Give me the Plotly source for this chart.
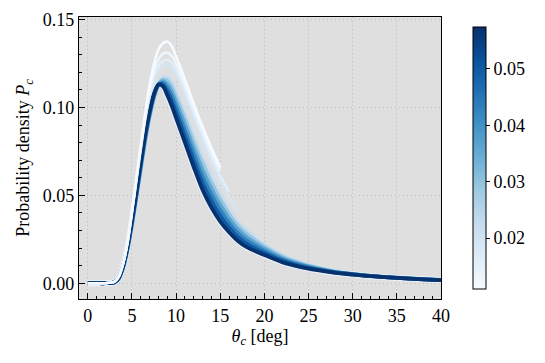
import plotly.graph_objects as go
from plotly.colors import sample_colorscale

# theta_c grid [deg]
theta = [0, 1, 2, 3, 3.5, 4, 4.5, 5, 5.5, 6, 6.5, 7, 7.5, 8, 8.5, 9, 9.5, 10,
         11, 12, 13, 14, 15, 16, 17, 18, 20, 22, 24, 26, 28, 30, 32, 35, 38, 40]

# full-range curves (colour value -> P_c)
p_057 = [0, 0, 0, 0.0005, 0.003, 0.010, 0.021, 0.036, 0.052, 0.069, 0.085, 0.098, 0.108, 0.113, 0.112, 0.107, 0.101, 0.094,
         0.080, 0.066, 0.053, 0.043, 0.035, 0.029, 0.024, 0.0205, 0.016, 0.012, 0.0093, 0.0074, 0.0059, 0.0049, 0.0040, 0.0030, 0.0022, 0.0017]
p_050 = [0, 0, 0, 0.0005, 0.0029, 0.0097, 0.0206, 0.0352, 0.0512, 0.068, 0.084, 0.0972, 0.1074, 0.113, 0.113, 0.1091, 0.1037, 0.097,
         0.0834, 0.0696, 0.0568, 0.0466, 0.0382, 0.0316, 0.0262, 0.0224, 0.0172, 0.0128, 0.0098, 0.0077, 0.0061, 0.0050, 0.0040, 0.0030, 0.0022, 0.0017]
p_043 = [0, 0, 0, 0.0005, 0.0028, 0.0094, 0.0202, 0.0344, 0.0504, 0.067, 0.083, 0.0964, 0.1068, 0.113, 0.114, 0.1112, 0.1064, 0.100,
         0.0868, 0.0732, 0.0606, 0.0502, 0.0414, 0.0342, 0.0284, 0.0243, 0.0184, 0.0136, 0.0104, 0.0080, 0.0063, 0.0051, 0.0041, 0.0030, 0.0022, 0.0017]
p_036 = [0, 0, 0, 0.0004, 0.0027, 0.0091, 0.0198, 0.0336, 0.0496, 0.066, 0.082, 0.0956, 0.1062, 0.113, 0.115, 0.1133, 0.1091, 0.103,
         0.0902, 0.0768, 0.0644, 0.0538, 0.0446, 0.0368, 0.0306, 0.0262, 0.0196, 0.0144, 0.0109, 0.0084, 0.0064, 0.0051, 0.0041, 0.0031, 0.0023, 0.0018]
p_029 = [0, 0, 0, 0.0004, 0.0026, 0.0088, 0.0194, 0.0328, 0.0488, 0.065, 0.081, 0.0948, 0.1056, 0.113, 0.116, 0.1154, 0.1118, 0.106,
         0.0936, 0.0804, 0.0682, 0.0574, 0.0478, 0.0394, 0.0328, 0.0281, 0.0208, 0.0152, 0.0115, 0.0087, 0.0066, 0.0052, 0.0042, 0.0031, 0.0023, 0.0018]
p_022 = [0, 0, 0, 0.0004, 0.0025, 0.0085, 0.019, 0.032, 0.048, 0.064, 0.080, 0.094, 0.105, 0.113, 0.117, 0.1175, 0.1145, 0.109,
         0.097, 0.084, 0.072, 0.061, 0.051, 0.042, 0.035, 0.030, 0.022, 0.016, 0.0120, 0.0090, 0.0068, 0.0053, 0.0042, 0.0031, 0.0023, 0.0018]

# truncated curves (low colour values)
p_019 = [0, 0, 0, 0.0007, 0.0035, 0.011, 0.0225, 0.040, 0.058, 0.076, 0.093, 0.106, 0.116, 0.121, 0.1235, 0.124, 0.1225, 0.1185,
         0.107, 0.094, 0.081, 0.069, 0.058, 0.049, 0.041]
p_016 = [0, 0, 0, 0.0007, 0.0036, 0.011, 0.023, 0.040, 0.059, 0.077, 0.094, 0.108, 0.118, 0.1235, 0.1265, 0.127, 0.1255, 0.1215,
         0.110, 0.097, 0.084, 0.072, 0.061, 0.052]
p_013 = [0, 0, 0, 0.0008, 0.0037, 0.0112, 0.0235, 0.041, 0.0595, 0.078, 0.095, 0.110, 0.121, 0.1275, 0.1305, 0.1312, 0.1295, 0.125,
         0.113, 0.100, 0.087, 0.075, 0.064]
p_011 = [0, 0, 0, 0.0008, 0.0038, 0.0115, 0.024, 0.041, 0.060, 0.079, 0.097, 0.113, 0.125, 0.133, 0.1365, 0.1375, 0.135, 0.129,
         0.116, 0.102, 0.089, 0.077, 0.066]

curves = [(0.022, p_022), (0.029, p_029), (0.036, p_036), (0.043, p_043), (0.050, p_050), (0.057, p_057),
          (0.019, p_019), (0.016, p_016), (0.013, p_013), (0.011, p_011)]

cmin, cmax = 0.011, 0.0574
blues = [[0, 'rgb(247,251,255)'], [0.125, 'rgb(222,235,247)'], [0.25, 'rgb(198,219,239)'],
         [0.375, 'rgb(158,202,225)'], [0.5, 'rgb(107,174,214)'], [0.625, 'rgb(66,146,198)'],
         [0.75, 'rgb(33,113,181)'], [0.875, 'rgb(8,81,156)'], [1, 'rgb(8,48,107)']]

serif = "Liberation Serif, Times New Roman, serif"
fs = 18

fig = go.Figure()

# pale halo under the darkest curve
fig.add_trace(go.Scatter(x=theta, y=p_057, mode='lines', line=dict(color='rgb(235,243,251)', width=6, shape='spline', smoothing=0.8),
                         hoverinfo='skip', showlegend=False))

for val, ys in curves:
    col = sample_colorscale(blues, [(val - cmin) / (cmax - cmin)])[0]
    w = 3.8 if len(ys) == len(theta) else 2.5
    fig.add_trace(go.Scatter(x=theta[:len(ys)], y=ys, mode='lines',
                             line=dict(color=col, width=w, shape='spline', smoothing=0.8),
                             showlegend=False))

# colour bar
fig.add_trace(go.Scatter(x=[None], y=[None], mode='markers', showlegend=False,
                         marker=dict(color=[cmin, cmax], cmin=cmin, cmax=cmax, colorscale=blues, showscale=True,
                                     colorbar=dict(x=1.061, xanchor='left', y=0.5, len=1, lenmode='fraction',
                                                   thickness=13, outlinewidth=1, outlinecolor='black',
                                                   tickvals=[0.02, 0.03, 0.04, 0.05], ticktext=['0.02', '0.03', '0.04', '0.05'],
                                                   ticks='outside', ticklen=4, tickcolor='black',
                                                   tickfont=dict(size=fs, family=serif, color='black')))))

axis_common = dict(showline=True, linecolor='black', linewidth=1.2, mirror=True, ticks='inside', tickcolor='black',
                   ticklen=6, tickwidth=1, showgrid=True, gridcolor='rgb(190,190,190)', griddash='1px,3px', gridwidth=1,
                   zeroline=False, automargin=False, tickfont=dict(size=fs, family=serif, color='black'))

# the page body adds an 8px offset, so margins are shifted to compensate
fig.update_layout(
    width=545, height=363,
    margin=dict(l=71, r=112, t=9, b=72),
    paper_bgcolor='white', plot_bgcolor='rgb(223,223,223)',
    font=dict(family=serif, size=fs, color='black'),
    xaxis=dict(range=[-1, 40], tickvals=[0, 5, 10, 15, 20, 25, 30, 35, 40],
               minor=dict(ticks='inside', ticklen=3, dtick=1, tick0=0, tickcolor='black', showgrid=False),
               title=dict(text='<i>θ</i><sub><i>c</i></sub> [deg]', font=dict(size=fs, family=serif), standoff=0),
               **axis_common),
    yaxis=dict(range=[-0.009, 0.1515], tickvals=[0, 0.05, 0.10, 0.15], ticktext=['0.00', '0.05', '0.10', '0.15'],
               minor=dict(ticks='inside', ticklen=3, dtick=0.01, tick0=0, tickcolor='black', showgrid=False),
               title=dict(text='Probability density <i>P</i><sub><i>c</i></sub>', font=dict(size=fs, family=serif),
                          standoff=8),
               **axis_common),
)

fig.write_html("out.html")
